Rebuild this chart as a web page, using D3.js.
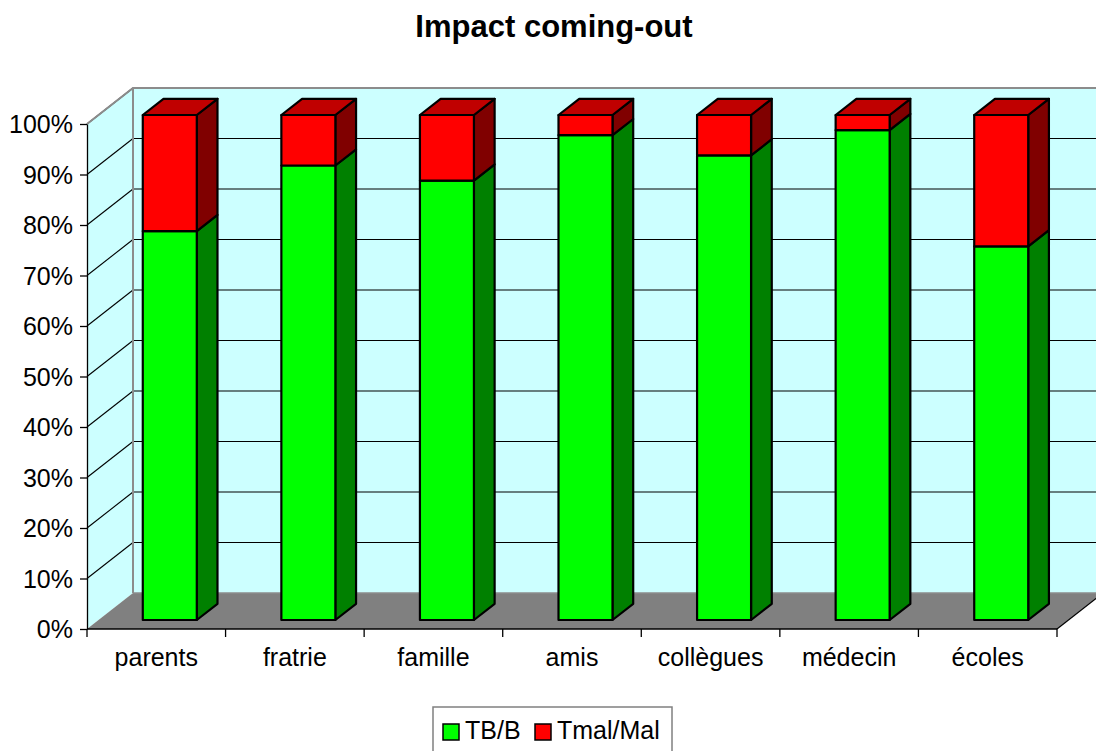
<!DOCTYPE html>
<html><head><meta charset="utf-8">
<script src="https://cdn.jsdelivr.net/npm/d3@7"></script>
<style>html,body{margin:0;padding:0;background:#fff;overflow:hidden}svg{display:block;font-family:"Liberation Sans",Arial,sans-serif}</style>
</head><body><svg id="c" width="1096" height="751"></svg>
<script>
const categories = ["parents","fratrie","famille","amis","collègues","médecin","écoles"];
const seriesNames = ["TB/B","Tmal/Mal"];
const tbB = [77,90,87,96,92,97,74];
const tmalMal = [23,10,13,4,8,3,26];
const yTicks = [0,10,20,30,40,50,60,70,80,90,100];
const title = "Impact coming-out";

const svg = d3.select("#c");
const X0 = 87, X1 = 1057, Y0 = 629, Y1 = 124;
const DX = 46, DY = -36;
const x = d3.scaleBand().domain(categories).range([X0, X1]).padding(0);
const y = d3.scaleLinear().domain([0,100]).range([Y0, Y1]);
const P = (px, v, d) => [px + d*DX, y(v) + d*DY];
const poly = pts => "M" + pts.map(p => p.join(",")).join("L") + "Z";

// back wall
svg.append("path").attr("d", poly([P(X0,0,1),P(X1+60,0,1),P(X1+60,100,1),P(X0,100,1)])).attr("fill","#ccffff");
// left wall
svg.append("path").attr("d", poly([P(X0,0,0),P(X0,0,1),P(X0,100,1),P(X0,100,0)])).attr("fill","#ccffff");
// floor
svg.append("path").attr("d", poly([P(X0,0,0),P(X0,0,1),P(X1,0,1),P(X1,0,0)])).attr("fill","#808080");
svg.append("line").attr("x1",P(X1,0,0)[0]).attr("y1",P(X1,0,0)[1]).attr("x2",P(X1,0,1)[0]).attr("y2",P(X1,0,1)[1]).attr("stroke","#000").attr("stroke-width",1.2);
// gridlines
yTicks.filter(v=>v>0).forEach(v=>{
  const a=P(X0,v,0), b=P(X0,v,1), c=P(X1+60,v,1);
  svg.append("path").attr("d",`M${a}L${b}`).attr("stroke","#000").attr("stroke-width",1.1).attr("fill","none");
  if (v<100) svg.append("path").attr("d",`M${b}L${c}`).attr("stroke","#000").attr("stroke-width",1.1).attr("fill","none");
});
// wall edges gray
svg.append("path").attr("d",`M${P(X0,100,0)}L${P(X0,100,1)}L${P(X1+60,100,1)}`).attr("stroke","#8c8c8c").attr("stroke-width",2).attr("fill","none");
svg.append("path").attr("d",`M${P(X0,0,1)}L${P(X0,100,1)}`).attr("stroke","#8c8c8c").attr("stroke-width",2).attr("fill","none");
svg.append("path").attr("d",`M${P(X0,0,1)}L${P(X1+60,0,1)}`).attr("stroke","#8c8c8c").attr("stroke-width",1.5).attr("fill","none");

// y axis
const yAxis = d3.axisLeft(y).tickValues(yTicks).tickFormat(d=>d+"%").tickSizeInner(7).tickSizeOuter(0).tickPadding(7);
const ga = svg.append("g").attr("transform",`translate(${X0},0)`).call(yAxis);
ga.selectAll("text").attr("font-size",25).attr("fill","#000").attr("font-family","Liberation Sans, Arial, sans-serif").attr("dy","0.35em");
ga.selectAll("line,path").attr("stroke","#000").attr("stroke-width",1.3);
// x axis line and ticks
svg.append("line").attr("x1",X0).attr("x2",X1).attr("y1",Y0).attr("y2",Y0).attr("stroke","#000").attr("stroke-width",1.3);
categories.concat([null]).forEach((c,i)=>{
  const px = c===null ? X1 : x(c);
  svg.append("line").attr("x1",px).attr("x2",px).attr("y1",Y0).attr("y2",Y0+8).attr("stroke","#000").attr("stroke-width",1.3);
});
svg.append("g").selectAll("text").data(categories).join("text")
  .attr("x",d=>x(d)+x.bandwidth()/2).attr("y",666).attr("text-anchor","middle").attr("font-size",25).text(d=>d);

// bars
const bw = 54, dF = 0.25, dB = 0.70;
const colors = [{front:"#00ff00", side:"#008000", top:"#00c000"},{front:"#ff0000", side:"#800000", top:"#c00000"}];
categories.forEach((c,i)=>{
  const cx = x(c) + x.bandwidth()/2 + 2;
  const l = cx - bw/2, r = cx + bw/2;
  const segs = [[0,tbB[i]],[tbB[i],tbB[i]+tmalMal[i]]];
  const g = svg.append("g").attr("stroke","#000").attr("stroke-width",2.2).attr("stroke-linejoin","round");
  segs.forEach((s,k)=>{
    const col = colors[k];
    g.append("path").attr("d",poly([P(r,s[0],dF),P(r,s[0],dB),P(r,s[1],dB),P(r,s[1],dF)])).attr("fill",col.side);
    g.append("path").attr("d",poly([P(l,s[0],dF),P(r,s[0],dF),P(r,s[1],dF),P(l,s[1],dF)])).attr("fill",col.front);
    if (k===segs.length-1)
      g.append("path").attr("d",poly([P(l,s[1],dF),P(r,s[1],dF),P(r,s[1],dB),P(l,s[1],dB)])).attr("fill",col.top);
  });
});

// title
svg.append("text").attr("x",554).attr("y",37).attr("text-anchor","middle").attr("font-size",31).attr("font-weight","bold").text(title);

// legend
const lg = svg.append("g");
lg.append("rect").attr("x",433).attr("y",707).attr("width",239).attr("height",60).attr("fill","#fff").attr("stroke","#808080").attr("stroke-width",1.5);
const lx = [443,535];
seriesNames.forEach((n,k)=>{
  lg.append("rect").attr("x",lx[k]).attr("y",724).attr("width",16).attr("height",16).attr("fill",colors[k].front).attr("stroke","#000").attr("stroke-width",1.5);
  lg.append("text").attr("x",lx[k]+22).attr("y",739).attr("font-size",25).text(n);
});
</script></body></html>
